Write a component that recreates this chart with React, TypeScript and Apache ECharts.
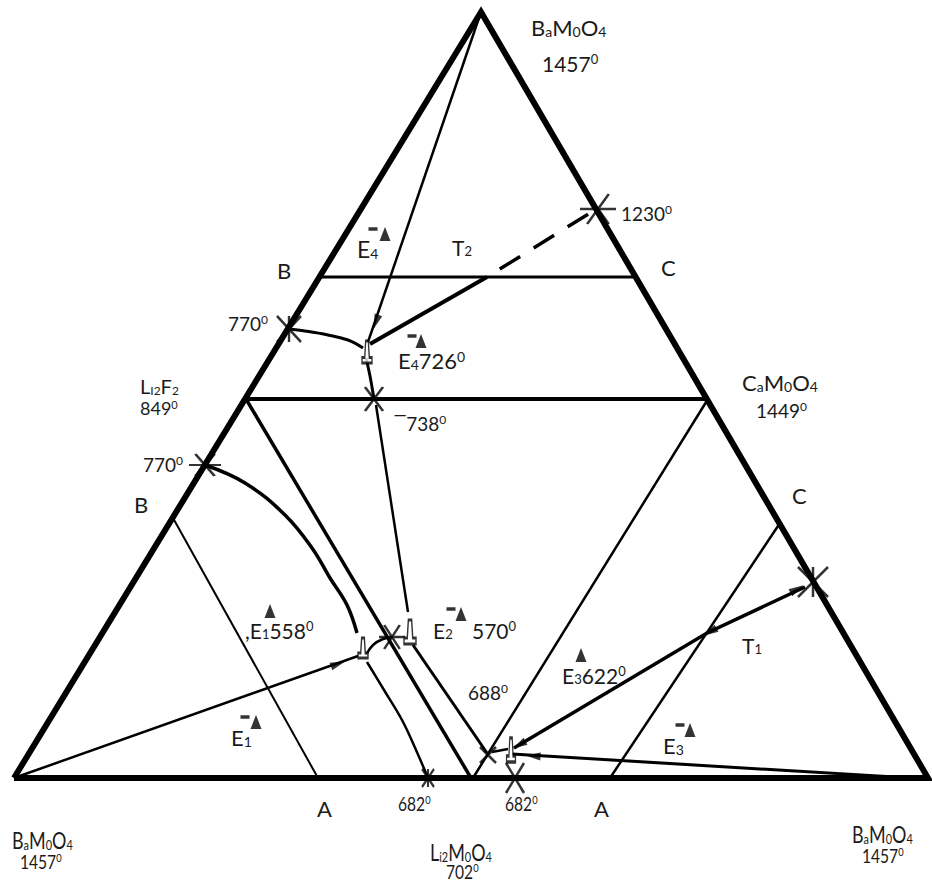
import { useEffect, useRef } from "react";
import * as echarts from "echarts";

// Chart units equal pixels: x to the right, y downward (inverted y axis).
const W = 932;
const H = 883;

// ---- composition triangle and joins ----
const sideTriangle = [[14, 778], [481, 12], [928, 778], [14, 778]];
const joinBC = [[319, 277], [638, 277]];
const joinLiF = [[246, 399], [708, 399]];
const liFToLi = [[246, 399], [471, 778]];
const caToLi = [[708, 399], [473, 778]];
const sectionBA = [[173, 518], [318, 778]];
const sectionAC = [[610, 778], [780, 523]];

// ---- monovariant curves and tie lines ----
const apexToE4 = [[481, 12], [368, 342]];
const e4ToT2 = [[370, 344], [487, 277]];
const t2To1230 = [[487, 277], [598, 208]];
const curve770ToE4 = [[289, 329], [305, 331], [328, 335], [348, 340], [363, 348]];
const e4To738 = [[366, 358], [370, 376], [374, 399]];
const from738ToE2 = [[376, 405], [408, 612]];
const curve770ToE1 = [[205, 465], [245, 483], [285, 515], [312, 548], [330, 578], [347, 605], [357, 633]];
const e1ToE2 = [[366, 655], [373, 645], [383, 639], [393, 637]];
const e1To682 = [[367, 662], [384, 690], [402, 720], [416, 750], [428, 778]];
const e2To688 = [[413, 645], [487, 753]];
const from688ToE3 = [[492, 752], [508, 749]];
const baToE1 = [[14, 778], [358, 656]];
const baRightToE3 = [[928, 779], [512, 754]];
const e3ToT1 = [[514, 748], [707, 633], [805, 587]];

// ---- invariant points ----
const invariantPoints = [
  [289, 329], [598, 209], [813, 582], [374, 399], [392, 637],
  [488, 755], [428, 778], [515, 778], [205, 465],
];
const eutecticMarkers = [[367, 352], [363, 648], [410, 632], [511, 750]];
const deltaGlyphs = [[385, 234], [421, 341], [270, 611], [461, 614], [581, 655], [256, 722], [690, 730]];
const deltaBars = [[373, 229], [412, 336], [451, 609], [245, 717], [680, 725]];

// ---- texts ----
const labelTexts = [
  "B_aM_0O_4", "1457^0", "1230^0", "B", "C", "E_4", "T_2", "770^0", "E_4726^0",
  "L_{I2}F_2", "849^0", "C_aM_0O_4", "1449^0", "‾738^0", "770^0", "B", "C",
  ",E_1558^0", "E_2", "570^0", "688^0", "E_3622^0", "T_1", "E_1", "E_3",
  "A", "A", "682^0", "682^0",
  "B_aM_0O_4", "1457^0", "L_{i2}M_0O_4", "702^0", "B_aM_0O_4", "1457^0",
];

// ---------------- layout & styles ----------------
const strokeStyle = [
  { pts: sideTriangle, w: 6 },
  { pts: joinBC, w: 3 },
  { pts: joinLiF, w: 4 },
  { pts: liFToLi, w: 3.5 },
  { pts: caToLi, w: 2.5 },
  { pts: sectionBA, w: 2 },
  { pts: sectionAC, w: 2.5 },
  { pts: apexToE4, w: 2.5 },
  { pts: e4ToT2, w: 4 },
  { pts: t2To1230, w: 3.5, dash: true },
  { pts: curve770ToE4, w: 3, smooth: true },
  { pts: e4To738, w: 3, smooth: true },
  { pts: from738ToE2, w: 2.5 },
  { pts: curve770ToE1, w: 3.5, smooth: true },
  { pts: e1ToE2, w: 2.5, smooth: true },
  { pts: e1To682, w: 2.5, smooth: true },
  { pts: e2To688, w: 3 },
  { pts: from688ToE3, w: 2.5 },
  { pts: baToE1, w: 2.5 },
  { pts: baRightToE3, w: 3 },
  { pts: e3ToT1, w: 3.5 },
];

const STAR = "path://M0,10L20,10M4,1L16,19M16,1L4,19";
const CROSS = "path://M0,0L20,20M20,0L0,20";
const CROSS_V = "path://M0,0L20,20M20,0L0,20M10,0L10,20";
const HOUSE = "path://M4,0L7,0L8,15L11,15L11,20L0,20L0,15L3,15Z";

const invariantStyle = [
  { sym: CROSS_V, size: [24, 26] },
  { sym: STAR, size: [36, 30] },
  { sym: CROSS_V, size: [30, 30] },
  { sym: STAR, size: [30, 24] },
  { sym: STAR, size: [26, 24] },
  { sym: CROSS, size: [16, 16] },
  { sym: CROSS_V, size: [12, 18] },
  { sym: STAR, size: [30, 30] },
  { sym: STAR, size: [32, 22] },
];
const markerSizes = [[10, 22], [10, 20], [12, 24], [9, 24]];

const arrowHeads = [
  { at: [376, 322], along: apexToE4, reverse: false },
  { at: [338, 664], along: baToE1, reverse: false },
  { at: [533, 756], along: baRightToE3, reverse: false },
  { at: [519, 745], along: e3ToT1, reverse: true },
  { at: [797, 589], along: e3ToT1, reverse: false },
  { at: [710, 632], along: e3ToT1, reverse: true },
];

// [x (left edge), y (centre of capitals), font size, condensed]
const labelLayout: [number, number, number, boolean][] = [
  [531, 27, 22, false], [542, 63, 21, false], [621, 213, 19, false],
  [277, 270, 22, false], [661, 267, 22, false], [357, 249, 23, false],
  [452, 247, 21, false], [228, 323, 19, false], [398, 360, 22, false],
  [140, 386, 20, false], [140, 408, 18, false], [742, 382, 22, false],
  [756, 410, 19, false], [394, 423, 19, false], [143, 464, 19, false],
  [134, 504, 22, false], [792, 495, 22, false], [245, 630, 21, false],
  [433, 630, 21, false], [472, 630, 21, false], [468, 692, 19, false],
  [562, 675, 21, false], [742, 645, 21, false], [231, 737, 22, false],
  [663, 745, 22, false], [317, 808, 22, false], [594, 808, 22, false],
  [398, 803, 20, true], [505, 803, 20, true],
  [12, 840, 23, true], [20, 861, 20, true], [430, 852, 23, true],
  [446, 871, 20, true], [852, 834, 23, true], [862, 855, 20, true],
];

const INK = "#1b1b1b";
const FONT = "Lato, 'Open Sans', sans-serif";

// "_x" / "_{xy}" -> subscript, "^x" -> superscript
function toRich(src: string) {
  const re = /_\{([^}]*)\}|\^\{([^}]*)\}|_(.)|\^(.)|([^_^]+)/g;
  let out = "";
  let m: RegExpExecArray | null;
  while ((m = re.exec(src))) {
    if (m[1] !== undefined) out += `{b|${m[1]}}`;
    else if (m[2] !== undefined) out += `{p|${m[2]}}`;
    else if (m[3] !== undefined) out += `{b|${m[3]}}`;
    else if (m[4] !== undefined) out += `{p|${m[4]}}`;
    else out += `{n|${m[5]}}`;
  }
  return out;
}

function richStyles(s: number) {
  const small = Math.round(s * 0.62);
  return {
    n: { fontSize: s, fontFamily: FONT, fill: INK, lineHeight: s },
    b: { fontSize: small, fontFamily: FONT, fill: INK, lineHeight: Math.round(s * 0.73), verticalAlign: "bottom" },
    p: { fontSize: small, fontFamily: FONT, fill: INK, lineHeight: small, verticalAlign: "top" },
  };
}

function rotationAlong(seg: number[][], reverse: boolean) {
  const a = seg[0];
  const b = seg[seg.length - 1];
  let dx = b[0] - a[0];
  let dy = b[1] - a[1];
  if (reverse) {
    dx = -dx;
    dy = -dy;
  }
  return (Math.atan2(-dx, -dy) * 180) / Math.PI;
}

export default function App() {
  const ref = useRef<HTMLDivElement>(null);

  useEffect(() => {
    if (!ref.current) return;
    const chart = echarts.init(ref.current, undefined, { renderer: "svg" });

    const lineSeries = strokeStyle.map((s) => ({
      type: "line",
      data: s.pts,
      symbol: "none",
      smooth: s.smooth ? 0.4 : false,
      silent: true,
      z: 2,
      lineStyle: {
        color: "#000",
        width: s.w,
        type: s.dash ? [24, 16] : "solid",
        dashOffset: s.dash ? 25 : 0,
        join: "miter",
      },
    }));

    const option = {
      animation: false,
      backgroundColor: "#fff",
      grid: { left: 0, right: 0, top: 0, bottom: 0 },
      xAxis: { type: "value", min: 0, max: W, show: false },
      yAxis: { type: "value", min: 0, max: H, inverse: true, show: false },
      series: [
        ...lineSeries,
        {
          type: "scatter",
          silent: true,
          z: 4,
          data: invariantPoints.map((p, i) => ({
            value: p,
            symbol: invariantStyle[i].sym,
            symbolSize: invariantStyle[i].size,
          })),
          itemStyle: { color: "none", borderColor: "#000", borderWidth: 2.5 },
        },
        {
          type: "scatter",
          silent: true,
          z: 5,
          data: eutecticMarkers.map((p, i) => ({ value: p, symbolSize: markerSizes[i] })),
          symbol: HOUSE,
          itemStyle: { color: "#fff", borderColor: "#000", borderWidth: 2 },
        },
        {
          type: "scatter",
          silent: true,
          z: 5,
          data: arrowHeads.map((a) => ({
            value: a.at,
            symbolRotate: rotationAlong(a.along, a.reverse),
          })),
          symbol: "triangle",
          symbolSize: [8, 15],
          itemStyle: { color: "#000" },
        },
        {
          type: "scatter",
          silent: true,
          z: 5,
          data: deltaGlyphs,
          symbol: "triangle",
          symbolSize: [11, 14],
          itemStyle: { color: "#000" },
        },
        {
          type: "scatter",
          silent: true,
          z: 5,
          data: deltaBars,
          symbol: "rect",
          symbolSize: [9, 3.5],
          itemStyle: { color: "#000" },
        },
      ],
      graphic: labelTexts.map((t, i) => {
        const [x, y, size, narrow] = labelLayout[i];
        return {
          type: "text",
          x,
          y,
          scaleX: narrow ? 0.78 : 1,
          z: 10,
          silent: true,
          style: {
            text: toRich(t),
            rich: richStyles(size),
            align: "left",
            verticalAlign: "middle",
            fill: INK,
          },
        };
      }),
    };

    chart.setOption(option as any);
    return () => chart.dispose();
  }, []);

  return (
    <div
      ref={ref}
      style={{ position: "fixed", left: 0, top: 0, width: W, height: H, background: "#fff" }}
    />
  );
}
